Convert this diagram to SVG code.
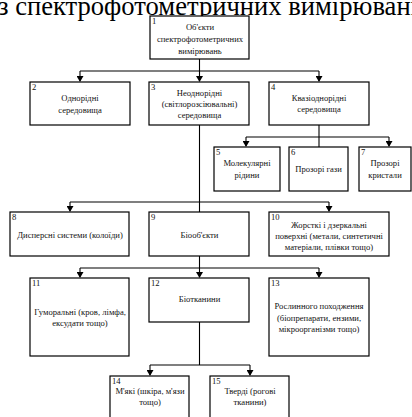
<svg xmlns="http://www.w3.org/2000/svg" width="412" height="417" viewBox="0 0 412 417">
<defs>
<marker id="ah" markerWidth="6" markerHeight="7" refX="5" refY="3.5" orient="auto" markerUnits="userSpaceOnUse">
<path d="M0,0 L6,3.5 L0,7 z" fill="#000"/>
</marker>
<style>
.box{fill:#fff;stroke:#000;stroke-width:1.2}
.t{font-family:"Liberation Serif","Times New Roman",serif;font-size:8.6px;fill:#111;text-anchor:middle}
.n{font-family:"Liberation Serif","Times New Roman",serif;font-size:8.6px;fill:#111}
.c{fill:none;stroke:#000;stroke-width:1.1}
.title{font-family:"Liberation Serif","Times New Roman",serif;font-size:26.6px;fill:#000}
</style>
</defs>
<rect width="412" height="417" fill="#fff"/>
<text class="title" x="-2" y="15">з спектрофотометричних вимірювань</text>

<g id="connectors">
<path class="c" d="M199.5,59 V71 M80,71 H319"/>
<path class="c" d="M80,71 V81" marker-end="url(#ah)"/>
<path class="c" d="M199.5,71 V81" marker-end="url(#ah)"/>
<path class="c" d="M319,71 V81" marker-end="url(#ah)"/>
<path class="c" d="M319,125 V147 M246,137 H389"/>
<path class="c" d="M246,137 V146" marker-end="url(#ah)"/>
<path class="c" d="M389,137 V146" marker-end="url(#ah)"/>
<path class="c" d="M199.5,125 V212 M70,202 H329"/>
<path class="c" d="M70,202 V211" marker-end="url(#ah)"/>
<path class="c" d="M329,202 V211" marker-end="url(#ah)"/>
<path class="c" d="M199.5,256 V268 M80,268 H319"/>
<path class="c" d="M80,268 V277" marker-end="url(#ah)"/>
<path class="c" d="M199.5,268 V277" marker-end="url(#ah)"/>
<path class="c" d="M319,268 V277" marker-end="url(#ah)"/>
<path class="c" d="M199.5,322 V365 M150,365 H250"/>
<path class="c" d="M150,365 V375" marker-end="url(#ah)"/>
<path class="c" d="M250,365 V375" marker-end="url(#ah)"/>
</g>

<g id="n1"><rect class="box" x="150" y="16" width="99" height="43"/><text class="n" x="152" y="23.5">1</text>
<text class="t" x="200" y="29.5">Об'єкти</text><text class="t" x="200" y="41.5">спектрофотометричних</text><text class="t" x="200" y="53.5">вимірювань</text></g>

<g id="n2"><rect class="box" x="30" y="82" width="100" height="43"/><text class="n" x="32" y="90">2</text>
<text class="t" x="80" y="101">Однорідні</text><text class="t" x="80" y="113">середовища</text></g>

<g id="n3"><rect class="box" x="149" y="82" width="100" height="43"/><text class="n" x="151" y="90">3</text>
<text class="t" x="199.5" y="95.5">Неоднорідні</text><text class="t" x="199.5" y="106.5">(світлорозсіювальні)</text><text class="t" x="199.5" y="117.5">середовища</text></g>

<g id="n4"><rect class="box" x="269" y="82" width="100" height="43"/><text class="n" x="271" y="90">4</text>
<text class="t" x="319" y="101">Квазіоднорідні</text><text class="t" x="319" y="112">середовища</text></g>

<g id="n5"><rect class="box" x="214" y="147" width="66" height="44"/><text class="n" x="216" y="155">5</text>
<text class="t" x="247" y="166">Молекулярні</text><text class="t" x="247" y="178">рідини</text></g>

<g id="n6"><rect class="box" x="289" y="147" width="59" height="44"/><text class="n" x="291" y="155">6</text>
<text class="t" x="318.5" y="172">Прозорі гази</text></g>

<g id="n7"><rect class="box" x="359" y="147" width="52" height="44"/><text class="n" x="361" y="155">7</text>
<text class="t" x="385" y="166">Прозорі</text><text class="t" x="385" y="178">кристали</text></g>

<g id="n8"><rect class="box" x="10" y="212" width="119" height="44"/><text class="n" x="12" y="220">8</text>
<text class="t" x="70" y="238">Дисперсні системи (колоїди)</text></g>

<g id="n9"><rect class="box" x="149" y="212" width="100" height="44"/><text class="n" x="151" y="220">9</text>
<text class="t" x="199.5" y="238">Біооб'єкти</text></g>

<g id="n10"><rect class="box" x="269" y="212" width="120" height="44"/><text class="n" x="271" y="220">10</text>
<text class="t" x="329" y="228">Жорсткі і дзеркальні</text><text class="t" x="329" y="239">поверхні (метали, синтетичні</text><text class="t" x="329" y="250">матеріали, плівки тощо)</text></g>

<g id="n11"><rect class="box" x="30" y="278" width="99" height="78"/><text class="n" x="32" y="286">11</text>
<text class="t" x="80" y="315">Гуморальні (кров, лімфа,</text><text class="t" x="80" y="326">ексудати тощо)</text></g>

<g id="n12"><rect class="box" x="149" y="278" width="100" height="44"/><text class="n" x="151" y="286">12</text>
<text class="t" x="199.5" y="302">Біотканини</text></g>

<g id="n13"><rect class="box" x="269" y="278" width="100" height="78"/><text class="n" x="271" y="286">13</text>
<text class="t" x="319" y="309">Рослинного походження</text><text class="t" x="319" y="321">(біопрепарати, ензими,</text><text class="t" x="319" y="332">мікроорганізми тощо)</text></g>

<g id="n14"><rect class="box" x="110" y="376" width="79" height="50"/><text class="n" x="112" y="384">14</text>
<text class="t" x="150" y="394">М'які (шкіра, м'язи</text><text class="t" x="150" y="405">тощо)</text></g>

<g id="n15"><rect class="box" x="210" y="376" width="79" height="50"/><text class="n" x="212" y="384">15</text>
<text class="t" x="250" y="394">Тверді (рогові</text><text class="t" x="250" y="405">тканини)</text></g>
</svg>
